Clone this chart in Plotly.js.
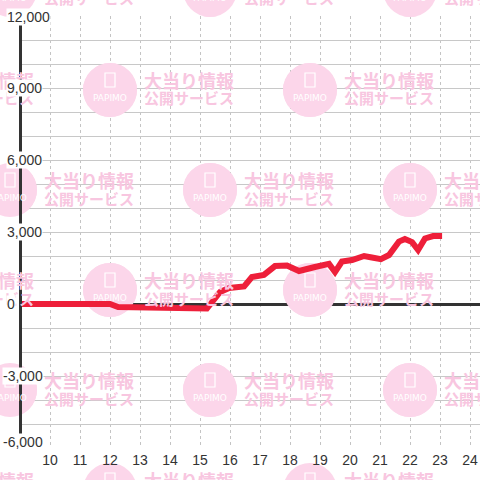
<!DOCTYPE html>
<html>
<head>
<meta charset="utf-8">
<script src="https://cdn.plot.ly/plotly-3.0.1.min.js"></script>
<style>html,body{margin:0;padding:0;background:#fff;}#chart{width:480px;height:480px;}</style>
</head>
<body>
<div id="chart"></div>
<script>
// ---- data ----
const hours = [9.0, 12.0, 12.27, 15.0, 15.23, 15.67, 15.97, 16.47, 16.73, 17.13, 17.5, 17.9, 18.3, 18.83, 19.3, 19.5, 19.73, 20.07, 20.47, 20.73, 21.03, 21.3, 21.63, 21.83, 22.07, 22.27, 22.5, 22.77, 23.07];
const values = [0, 0, -125, -145, -190, 500, 667, 730, 1125, 1210, 1580, 1600, 1375, 1540, 1670, 1330, 1770, 1830, 2000, 1940, 1870, 2040, 2600, 2710, 2580, 2250, 2730, 2830, 2830];
const xTickVals = [10, 11, 12, 13, 14, 15, 16, 17, 18, 19, 20, 21, 22, 23, 24];
const xTickText = ['10', '11', '12', '13', '14', '15', '16', '17', '18', '19', '20', '21', '22', '23', '24'];
const yTickVals = [12000, 9000, 6000, 3000, 0, -3000, -6000];
const yTickText = ['12,000', '9,000', '6,000', '3,000', '0', '-3,000', '-6,000'];
const watermarkLine1 = '大当り情報';
const watermarkLine2 = '公開サービス';
const watermarkLogo = 'PAPIMO';

// ---- layout geometry ----
const L = 22, T = 16, W = 458, H = 432;
const xr = [10 - (50 - L) / 30, 10 + (480 - 50) / 30];
const yr = [-6000, 12000];
const pX = px => (px - L) / W;
const pY = py => (T + H - py) / H;
const dX = px => xr[0] + (px - L) / W * (xr[1] - xr[0]);
const dY = py => yr[1] - (py - T) / H * (yr[1] - yr[0]);

const PINK = '#fcd6ea';
const PINK_TXT = '#f8c6e0';
const shapes = [];
const annotations = [];

const tiles = [];
[-10, 190, 390].forEach(cy => [10, 210, 410].forEach(cx => tiles.push([cx, cy])));
[90, 290, 490].forEach(cy => [-90, 110, 310].forEach(cx => tiles.push([cx, cy])));

const R = 27;
tiles.forEach(([cx, cy]) => {
  shapes.push({type: 'circle', xref: 'paper', yref: 'paper', layer: 'below',
    x0: pX(cx - R), x1: pX(cx + R), y0: pY(cy + R), y1: pY(cy - R),
    fillcolor: PINK, line: {width: 0}});
  shapes.push({type: 'circle', xref: 'x', yref: 'y', layer: 'between',
    x0: dX(cx - R), x1: dX(cx + R), y0: dY(cy + R), y1: dY(cy - R),
    fillcolor: PINK, line: {width: 0}});
  shapes.push({type: 'rect', xref: 'paper', yref: 'paper', layer: 'below',
    x0: pX(cx - 5), x1: pX(cx + 5), y0: pY(cy - 3), y1: pY(cy - 17),
    fillcolor: 'rgba(0,0,0,0)', line: {width: 1.2, color: '#ffffff'}});
  shapes.push({type: 'rect', xref: 'x', yref: 'y', layer: 'between',
    x0: dX(cx - 5), x1: dX(cx + 5), y0: dY(cy - 3), y1: dY(cy - 17),
    fillcolor: 'rgba(0,0,0,0)', line: {width: 1.2, color: '#ffffff'}});
  annotations.push({xref: 'paper', yref: 'paper', x: pX(cx), y: pY(cy + 8),
    xanchor: 'center', yanchor: 'middle', showarrow: false, text: watermarkLogo,
    font: {family: 'DejaVu Sans, sans-serif', size: 9, color: '#ffffff'}});
  annotations.push({xref: 'paper', yref: 'paper', x: pX(cx + 32), y: pY(cy - 10),
    xanchor: 'left', yanchor: 'middle', showarrow: false, text: watermarkLine1,
    font: {family: 'Noto Sans CJK JP, sans-serif', size: 18, color: PINK_TXT, weight: 'bold'}});
  annotations.push({xref: 'paper', yref: 'paper', x: pX(cx + 32), y: pY(cy + 8),
    xanchor: 'left', yanchor: 'middle', showarrow: false, text: watermarkLine2,
    font: {family: 'Noto Sans CJK JP, sans-serif', size: 15, color: PINK_TXT, weight: 'bold'}});
});

// y tick labels with white background (drawn over the axis line)
yTickVals.forEach((v, i) => {
  const start = v < 0 ? 2 : 6;
  let ys = 0;
  if (v === yr[0]) ys = 6;
  if (v === yr[1]) ys = -1;
  annotations.push({xref: 'paper', yref: 'y', x: pX(start), y: v, yshift: ys,
    xanchor: 'left', yanchor: 'middle', showarrow: false, text: yTickText[i],
    bgcolor: '#ffffff', borderpad: 0,
    font: {family: 'Liberation Sans, Arial, sans-serif', size: 14, color: '#333333'}});
});

const trace = {
  x: hours, y: values, type: 'scatter', mode: 'lines',
  line: {color: '#ee1f3a', width: 6}, hoverinfo: 'skip'
};

const layout = {
  width: 480, height: 480,
  margin: {l: L, r: 480 - L - W, t: T, b: 480 - T - H, pad: 0},
  paper_bgcolor: '#ffffff', plot_bgcolor: 'rgba(0,0,0,0)',
  showlegend: false,
  xaxis: {
    range: xr, tickmode: 'array', tickvals: xTickVals, ticktext: xTickText,
    showgrid: true, gridcolor: '#c4c4c4', gridwidth: 1, griddash: 'dot',
    zeroline: false, showline: false, ticks: '', ticklabelstandoff: 2,
    tickfont: {family: 'Liberation Sans, Arial, sans-serif', size: 14, color: '#333333'},
    fixedrange: true
  },
  yaxis: {
    range: yr, tick0: 0, dtick: 1000, showticklabels: false, ticks: '',
    showgrid: true, gridcolor: '#c8c8c8', gridwidth: 1,
    zeroline: true, zerolinecolor: '#333333', zerolinewidth: 3,
    showline: true, linecolor: '#333333', linewidth: 3,
    fixedrange: true
  },
  shapes: shapes,
  annotations: annotations
};

Plotly.newPlot('chart', [trace], layout, {displayModeBar: false, staticPlot: true});
</script>
</body>
</html>
